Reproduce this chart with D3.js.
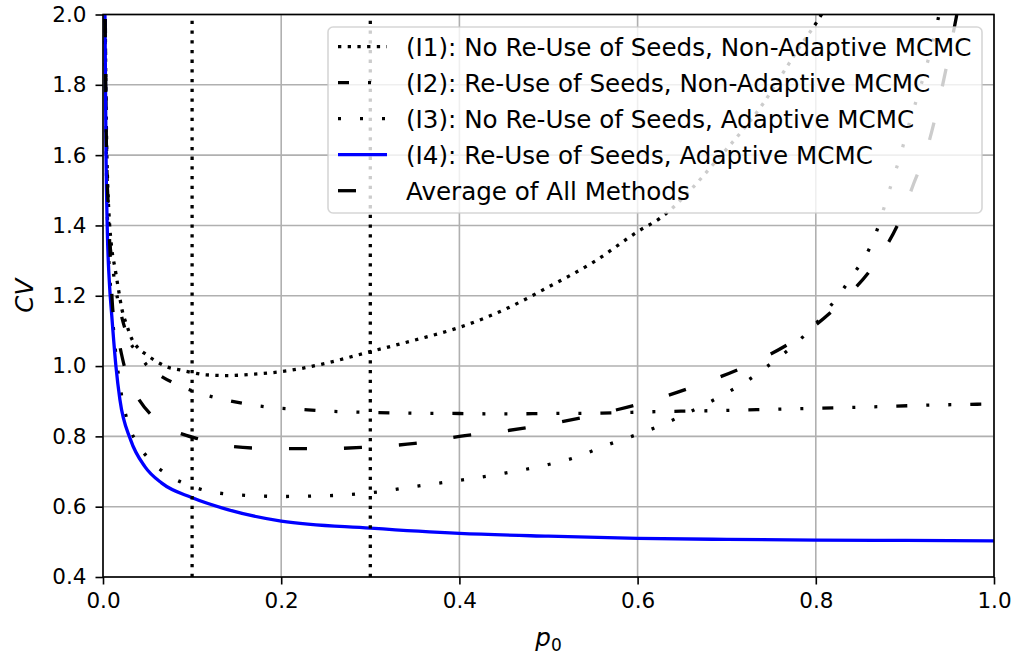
<!DOCTYPE html>
<html><head><meta charset="utf-8">
<script src="https://cdn.jsdelivr.net/npm/d3@7"></script>
<style>body{margin:0;background:#fff}svg{display:block}text{font-family:"DejaVu Sans",sans-serif}</style>
</head><body>
<svg id="c" width="1019" height="657"></svg>
<script>
// ---- data ----
const xTicks = [0.0, 0.2, 0.4, 0.6, 0.8, 1.0];
const yTicks = [0.4, 0.6, 0.8, 1.0, 1.2, 1.4, 1.6, 1.8, 2.0];
const vLines = [0.1, 0.3];
const seriesNames = [
  "(I1): No Re-Use of Seeds, Non-Adaptive MCMC",
  "(I2): Re-Use of Seeds, Non-Adaptive MCMC",
  "(I3): No Re-Use of Seeds, Adaptive MCMC",
  "(I4): Re-Use of Seeds, Adaptive MCMC",
  "Average of All Methods"
];
const pI1 = [0.0015,0.003,0.004,0.0055,0.007,0.0098,0.0135,0.0172,0.021,0.0266,0.032,0.0396,0.049,0.06,0.0715,0.0864,0.0995,0.116,0.14,0.17,0.2,0.25,0.3,0.35,0.4,0.45,0.5,0.55,0.603,0.625,0.659,0.689,0.715,0.741,0.763,0.782,0.8025,0.82];
const cvI1 = [2.4,1.85,1.65,1.5,1.42,1.335,1.278,1.221,1.164,1.117,1.079,1.051,1.032,1.013,0.998,0.989,0.982,0.975,0.973,0.977,0.984,1.008,1.041,1.074,1.11,1.16,1.225,1.295,1.387,1.42,1.50,1.586,1.662,1.747,1.833,1.908,1.984,2.06];
const pI2 = [0.0015,0.004,0.007,0.01,0.015,0.02,0.03,0.04,0.05,0.06,0.0825,0.1,0.137,0.161,0.19,0.22,0.25,0.3,0.35,0.4,0.45,0.5,0.56,0.6,0.7,0.77,0.85,0.93,1.0];
const cvI2 = [2.4,1.62,1.38,1.30,1.21,1.15,1.07,1.035,1.0,0.98,0.948,0.93,0.904,0.892,0.882,0.877,0.872,0.868,0.866,0.865,0.864,0.865,0.866,0.869,0.874,0.878,0.883,0.889,0.892];
const pI3 = [0.0015,0.003,0.005,0.01,0.02,0.0285,0.0397,0.0546,0.073,0.0995,0.12,0.144,0.17,0.2,0.244,0.269,0.293,0.318,0.343,0.4,0.45,0.5,0.53,0.561,0.584,0.608,0.631,0.653,0.676,0.698,0.72,0.74,0.76,0.78,0.797,0.813,0.828,0.842,0.856,0.866,0.881,0.8945,0.906,0.917,0.926,0.936,0.945];
const cvI3 = [2.3,1.75,1.42,1.17,0.93,0.835,0.776,0.728,0.69,0.658,0.643,0.635,0.631,0.629,0.631,0.633,0.638,0.645,0.655,0.675,0.695,0.72,0.74,0.771,0.792,0.813,0.837,0.863,0.891,0.921,0.953,0.989,1.027,1.07,1.112,1.16,1.209,1.261,1.314,1.368,1.487,1.596,1.70,1.79,1.87,1.973,2.08];
const pI4 = [0.0015,0.0022,0.0034,0.0048,0.0071,0.0098,0.0145,0.019,0.031,0.047,0.066,0.0995,0.141,0.2,0.3,0.4,0.5,0.6,0.7,0.8,0.9,1.0];
const cvI4 = [2.3,2.0,1.6,1.39,1.24,1.145,1.0,0.904,0.79,0.714,0.667,0.626,0.591,0.559,0.539,0.524,0.516,0.510,0.507,0.505,0.504,0.503];
const pAvg = [0.0015,0.004,0.006,0.008,0.011,0.017,0.025,0.032,0.056,0.073,0.111,0.131,0.18,0.245,0.3,0.35,0.4,0.45,0.5,0.55,0.61,0.67,0.73,0.78,0.83,0.87,0.896,0.91,0.925,0.936,0.949,0.962];
const cvAvg = [2.3,1.6,1.45,1.32,1.16,1.08,0.99,0.945,0.856,0.825,0.79,0.776,0.766,0.765,0.77,0.78,0.80,0.815,0.835,0.86,0.898,0.948,1.01,1.08,1.185,1.305,1.425,1.52,1.62,1.728,1.88,2.05];

// ---- layout ----
const svg = d3.select("#c");
const L = 103, R = 994, T = 14.5, B = 577;
const x = d3.scaleLinear().domain([0, 1]).range([L, R]);
const y = d3.scaleLinear().domain([0.4, 2.0]).range([B, T]);

svg.append("defs").append("clipPath").attr("id", "clip")
  .append("rect").attr("x", L).attr("y", T).attr("width", R - L).attr("height", B - T);

// grid
const grid = svg.append("g");
grid.selectAll(".gx").data(xTicks).enter().append("line")
  .attr("x1", d => x(d)).attr("x2", d => x(d)).attr("y1", T).attr("y2", B)
  .attr("stroke", "#b0b0b0").attr("stroke-width", 1.6);
grid.selectAll(".gy").data(yTicks).enter().append("line")
  .attr("y1", d => y(d)).attr("y2", d => y(d)).attr("x1", L).attr("x2", R)
  .attr("stroke", "#b0b0b0").attr("stroke-width", 1.6);

// series
const series = [
  {p: pI1, v: cvI1, color: "#000", dash: "3.3,6.4"},
  {p: pI2, v: cvI2, color: "#000", dash: "11,19,3,19,3,19"},
  {p: pI3, v: cvI3, color: "#000", dash: "3,19"},
  {p: pI4, v: cvI4, color: "#0000ff", dash: null},
  {p: pAvg, v: cvAvg, color: "#000", dash: "18,37"}
];
const line = d3.line().x(d => x(d[0])).y(d => y(d[1])).curve(d3.curveMonotoneX);
const plot = svg.append("g").attr("clip-path", "url(#clip)");
series.forEach(s => {
  plot.append("path").datum(s.p.map((p, i) => [p, s.v[i]]))
    .attr("d", line).attr("fill", "none").attr("stroke", s.color)
    .attr("stroke-width", 3.3).attr("stroke-linecap", "butt")
    .attr("stroke-dasharray", s.dash);
});
plot.selectAll(".vl").data(vLines).enter().append("line")
  .attr("x1", d => x(d)).attr("x2", d => x(d)).attr("y1", B).attr("y2", T)
  .attr("stroke", "#000").attr("stroke-width", 3.3).attr("stroke-dasharray", "3.3,6.4");

// axes
const xAxis = d3.axisBottom(x).tickValues(xTicks).tickFormat(d3.format(".1f")).tickSize(7.5).tickPadding(8);
const yAxis = d3.axisLeft(y).tickValues(yTicks).tickFormat(d3.format(".1f")).tickSize(7.5).tickPadding(9);
const gx = svg.append("g").attr("transform", `translate(0,${B})`).call(xAxis);
const gy = svg.append("g").attr("transform", `translate(${L},0)`).call(yAxis);
[gx, gy].forEach(g => {
  g.select(".domain").remove();
  g.selectAll(".tick line").attr("stroke", "#000").attr("stroke-width", 1.6);
  g.selectAll(".tick text").attr("fill", "#000").style("font-size", "21.5px").style("font-family", "DejaVu Sans");
});
// spines
svg.append("rect").attr("x", L).attr("y", T).attr("width", R - L).attr("height", B - T)
  .attr("fill", "none").attr("stroke", "#000").attr("stroke-width", 1.6);

// axis labels
svg.append("text").attr("x", (L + R) / 2).attr("y", 646).attr("text-anchor", "middle")
  .style("font-size", "24.6px")
  .call(t => {
    t.append("tspan").style("font-style", "italic").text("p");
    t.append("tspan").attr("dy", 5).style("font-size", "17px").text("0");
  });
svg.append("text").attr("transform", `translate(33,${(T + B) / 2}) rotate(-90)`)
  .attr("text-anchor", "middle").style("font-size", "24.6px").style("font-style", "italic").text("CV");

// legend
const lg = svg.append("g");
lg.append("rect").attr("x", 328).attr("y", 27).attr("width", 654).attr("height", 186)
  .attr("rx", 5).attr("fill", "#fff").attr("fill-opacity", 0.8)
  .attr("stroke", "#cccccc").attr("stroke-opacity", 0.8).attr("stroke-width", 1.6);
const rowY = d3.scaleLinear().domain([0, 4]).range([46.7, 190.7]);
seriesNames.forEach((name, i) => {
  const s = series[i];
  lg.append("line").attr("x1", 338).attr("x2", 387).attr("y1", rowY(i)).attr("y2", rowY(i))
    .attr("stroke", s.color).attr("stroke-width", 3.3).attr("stroke-dasharray", s.dash);
  lg.append("text").attr("x", 406).attr("y", rowY(i)).attr("dy", "0.36em")
    .style("font-size", "24.6px").attr("fill", "#000").text(name);
});
</script>
</body></html>
